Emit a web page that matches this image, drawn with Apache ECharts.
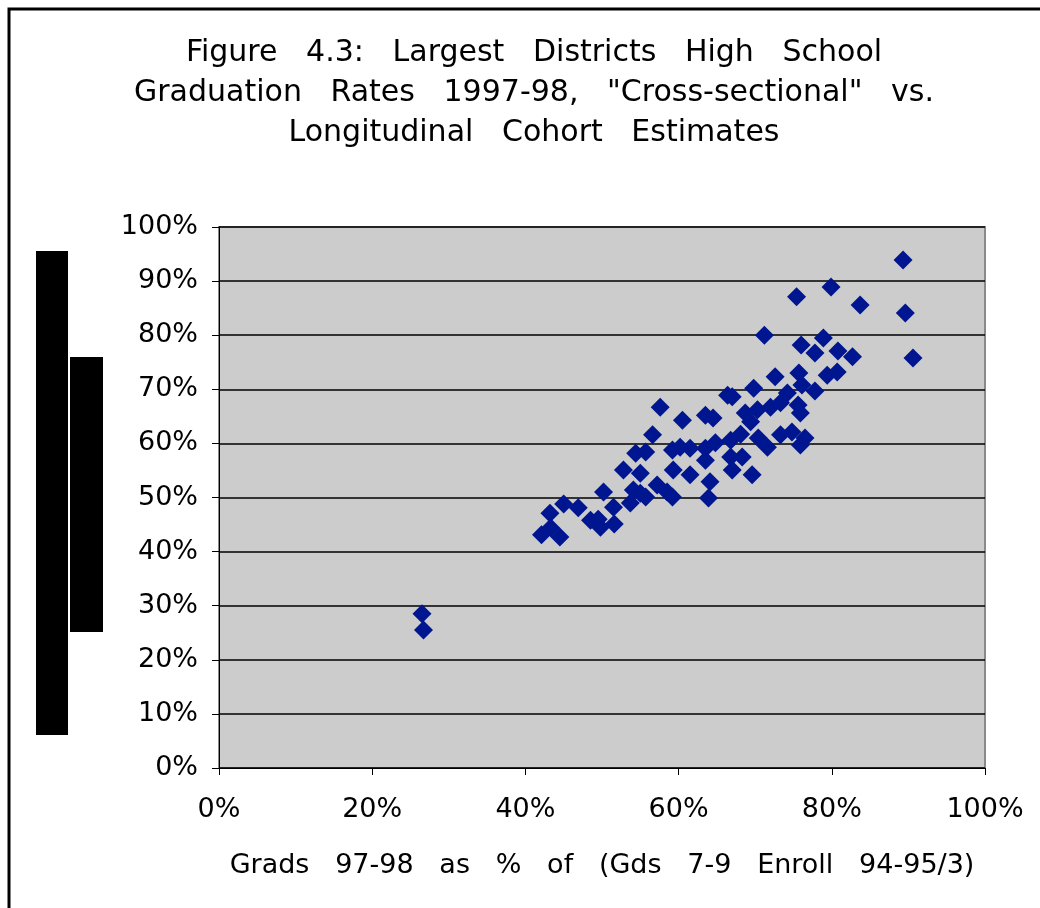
<!DOCTYPE html>
<html>
<head>
<meta charset="utf-8">
<style>
  html, body { margin: 0; padding: 0; background: #ffffff; }
  #chart { width: 1040px; height: 908px; }
</style>
<script src="https://cdn.jsdelivr.net/npm/echarts@6/dist/echarts.min.js"></script>
</head>
<body>
<div id="chart"></div>
<script>
// Chart text
var titleLines = [
  'Figure   4.3:   Largest   Districts   High   School',
  'Graduation   Rates   1997-98,   "Cross-sectional"   vs.',
  'Longitudinal   Cohort   Estimates'
];
var xAxisTitle = 'Grads   97-98   as   %   of   (Gds   7-9   Enroll   94-95/3)';

// Axis ticks (percent)
var xTicks = [0, 20, 40, 60, 80, 100];
var yTicks = [0, 10, 20, 30, 40, 50, 60, 70, 80, 90, 100];

// Cross-sectional rate (x, %) per district
var crossSectional = [
  26.5, 26.7, 42.1, 43.2, 43.3, 44.5, 45.0, 46.9, 48.5, 49.5,
  49.8, 50.2, 51.6, 51.5, 52.8, 53.7, 54.1, 55.0, 54.4, 55.7,
  55.7, 55.0, 56.6, 57.2, 57.6, 58.5, 59.2, 59.3, 59.2, 60.2,
  60.5, 61.5, 61.5, 63.5, 63.5, 63.5, 64.5, 64.1, 63.9, 64.8,
  66.4, 67.0, 66.8, 66.8, 67.0, 68.1, 68.3, 68.7, 69.4, 69.6,
  69.8, 70.3, 70.4, 71.6, 71.2, 72.0, 72.6, 73.3, 73.3, 74.2,
  74.8, 75.4, 75.6, 75.7, 75.9, 76.0, 76.1, 76.5, 75.9, 77.8,
  77.8, 78.9, 79.4, 79.9, 80.7, 80.8, 82.7, 83.7, 89.3, 89.6,
  90.6
];
// Longitudinal cohort rate (y, %) per district
var longitudinal = [
  28.5, 25.5, 43.1, 47.1, 44.4, 42.7, 48.8, 48.1, 45.8, 46.0,
  44.5, 51.0, 45.1, 48.2, 55.1, 49.0, 51.4, 54.5, 58.2, 58.4,
  50.1, 50.8, 61.6, 52.3, 66.7, 51.0, 50.1, 55.1, 58.8, 59.3,
  64.3, 59.1, 54.2, 56.9, 59.1, 65.2, 64.7, 52.9, 49.9, 60.1,
  68.9, 68.6, 60.6, 57.5, 55.1, 61.7, 57.5, 65.6, 64.0, 54.2,
  70.2, 66.2, 61.0, 59.3, 80.0, 66.7, 72.3, 67.5, 61.6, 69.3,
  62.1, 87.1, 67.1, 73.0, 65.6, 78.2, 70.8, 61.0, 59.7, 76.7,
  69.7, 79.5, 72.6, 88.9, 73.2, 77.1, 76.0, 85.6, 93.9, 84.1,
  75.8
];

var points = crossSectional.map(function (x, i) { return [x, longitudinal[i]]; });

var chart = echarts.init(document.getElementById('chart'), null, { renderer: 'canvas' });
var labelFont = '"DejaVu Sans", Verdana, sans-serif';

chart.setOption({
  animation: false,
  backgroundColor: '#ffffff',
  title: {
    text: titleLines.join('\n'),
    left: 529,
    top: 28,
    textAlign: 'center',
    textStyle: {
      fontFamily: labelFont,
      fontSize: 30,
      fontWeight: 'normal',
      color: '#000000',
      lineHeight: 40
    }
  },
  grid: {
    left: 219,
    right: 55,
    top: 227,
    bottom: 140,
    show: true,
    backgroundColor: '#cccccc',
    borderColor: '#8a8a8a',
    borderWidth: 2
  },
  xAxis: {
    type: 'value',
    min: 0,
    max: 100,
    interval: 20,
    name: xAxisTitle,
    nameLocation: 'middle',
    nameGap: 84,
    nameTextStyle: { fontFamily: labelFont, fontSize: 27, color: '#000000' },
    axisLine: { show: true, onZero: false, lineStyle: { color: '#000000', width: 1 } },
    axisTick: { show: true, length: 7, lineStyle: { color: '#000000' } },
    axisLabel: {
      formatter: '{value}%', margin: 28,
      fontFamily: labelFont, fontSize: 27, color: '#000000'
    },
    splitLine: { show: false }
  },
  yAxis: {
    type: 'value',
    min: 0,
    max: 100,
    interval: 10,
    axisLine: { show: true, onZero: false, lineStyle: { color: '#000000', width: 1 } },
    axisTick: { show: true, length: 7, lineStyle: { color: '#000000' } },
    axisLabel: {
      formatter: '{value}%', margin: 21,
      fontFamily: labelFont, fontSize: 27, color: '#000000'
    },
    splitLine: { show: true, lineStyle: { color: '#000000', width: 1.5 } }
  },
  series: [{
    type: 'scatter',
    data: points,
    symbol: 'diamond',
    symbolSize: 19,
    itemStyle: { color: '#001690', opacity: 1 }
  }],
  graphic: [
    { type: 'rect', shape: { x: 9, y: 9, width: 1200, height: 1200 },
      style: { fill: 'none', stroke: '#000000', lineWidth: 3 }, silent: true },
    { type: 'rect', shape: { x: 36, y: 251, width: 32, height: 484 },
      style: { fill: '#000000' }, silent: true },
    { type: 'rect', shape: { x: 70, y: 357, width: 33, height: 275 },
      style: { fill: '#000000' }, silent: true }
  ]
});
</script>
</body>
</html>
